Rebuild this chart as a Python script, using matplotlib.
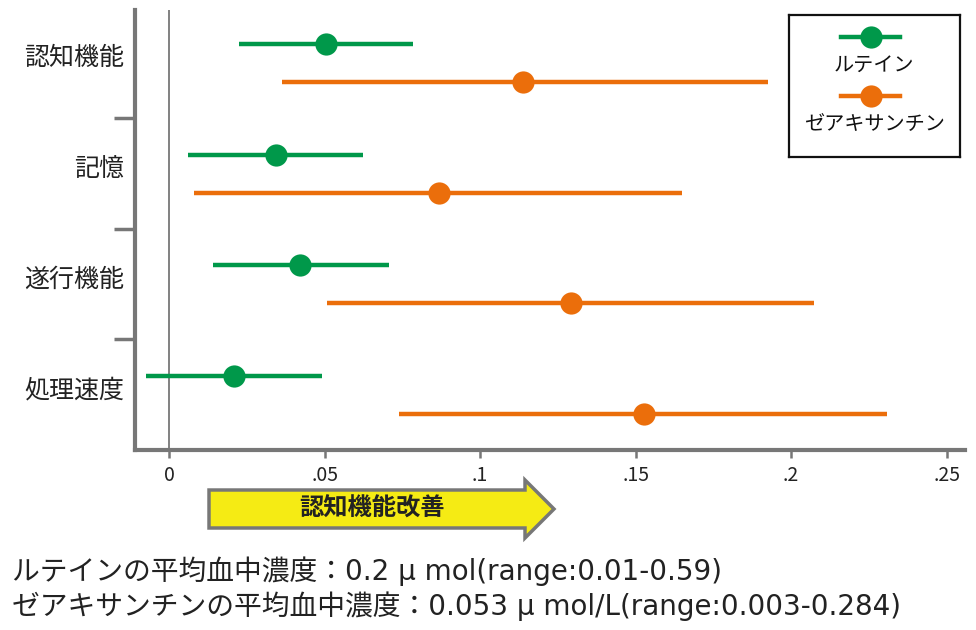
import matplotlib
matplotlib.use("Agg")
import matplotlib.pyplot as plt
import matplotlib.patches as patches
import numpy as np

plt.rcParams['font.family'] = ['Noto Sans CJK JP', 'DejaVu Sans']

# data
domains = ['認知機能', '記憶', '遂行機能', '処理速度']
series = ['ルテイン', 'ゼアキサンチン']
colors = ['#00984A', '#EB6E0B']
lutein_est = [0.0505, 0.0343, 0.0422, 0.0207]
lutein_lo = [0.0225, 0.0060, 0.0141, -0.0075]
lutein_hi = [0.0785, 0.0624, 0.0708, 0.0491]
zea_est = [0.1137, 0.0868, 0.1291, 0.1526]
zea_lo = [0.0362, 0.0079, 0.0506, 0.0739]
zea_hi = [0.1926, 0.1648, 0.2073, 0.2307]
xticks = [0, 0.05, 0.1, 0.15, 0.2, 0.25]
xticklabels = ['0', '.05', '.1', '.15', '.2', '.25']
arrow_label = '認知機能改善'
notes = ['ルテインの平均血中濃度：0.2 μ mol(range:0.01-0.59)',
         'ゼアキサンチンの平均血中濃度：0.053 μ mol/L(range:0.003-0.284)']

W, H = 976, 630
fig = plt.figure(figsize=(W / 100, H / 100), dpi=100)
ax = fig.add_axes([135 / W, 1 - 450 / H, 830 / W, 440 / H])

gray = '#777777'
ypos = np.arange(len(domains))
offset = 0.172

ax.axvline(0, color=gray, lw=1.3, zorder=1)
for est, lo, hi, col, dy in [(lutein_est, lutein_lo, lutein_hi, colors[0], -offset),
                             (zea_est, zea_lo, zea_hi, colors[1], offset)]:
    y = ypos + dy
    ax.hlines(y, lo, hi, color=col, lw=3.2, zorder=2)
    ax.plot(est, y, 'o', color=col, ms=16, mec='none', zorder=3)

ax.set_xlim(-0.0110, 0.2559)
ax.set_ylim(3.5, -0.48)

for s in ['top', 'right']:
    ax.spines[s].set_visible(False)
for s in ['left', 'bottom']:
    ax.spines[s].set_color(gray)
    ax.spines[s].set_linewidth(3)

ax.set_xticks(xticks)
ax.set_xticklabels(xticklabels, fontsize=14, color='#222222')
ax.tick_params(axis='x', length=6, width=1.8, color=gray, pad=5)

ax.set_yticks([0.5, 1.5, 2.5])
ax.set_yticklabels([])
ax.tick_params(axis='y', which='major', length=15, width=2.5, color=gray)
ax.set_yticks(ypos - 0.07, minor=True)
ax.set_yticklabels(domains, minor=True, fontsize=18, color='#222222')
ax.tick_params(axis='y', which='minor', length=0, pad=8)

# legend box
lax = fig.add_axes([789 / W, 1 - 157 / H, 171 / W, 142 / H])
lax.set_xlim(0, 171)
lax.set_ylim(142, 0)
lax.set_xticks([])
lax.set_yticks([])
for s in lax.spines.values():
    s.set_linewidth(1.6)
    s.set_color('#111111')
for i, (name, col) in enumerate(zip(series, colors)):
    yl = 22 + i * 59
    lax.plot([52, 111], [yl, yl], color=col, lw=3.2)
    lax.plot([82], [yl], 'o', color=col, ms=16, mec='none')
    lax.text(85, yl + 28, name, ha='center', va='center', fontsize=14.5, color='#111111')

# arrow
pts = [(209, 490), (525, 490), (525, 480), (554, 509), (525, 538), (525, 528), (209, 528)]
arrow = patches.Polygon([(x / W, 1 - y / H) for x, y in pts], closed=True,
                        transform=fig.transFigure, facecolor='#F5EB14',
                        edgecolor=gray, lw=2.5, joinstyle='miter')
fig.patches.append(arrow)
fig.text(372 / W, 1 - 509 / H, arrow_label, ha='center', va='center',
         fontsize=17.5, fontweight='bold', color='#222222')

for i, note in enumerate(notes):
    fig.text(12 / W, 1 - (571 + i * 35) / H, note, ha='left', va='center',
             fontsize=20, color='#222222',
             family=['DejaVu Sans', 'Noto Sans CJK JP'])

fig.savefig('out.png', dpi=100)
